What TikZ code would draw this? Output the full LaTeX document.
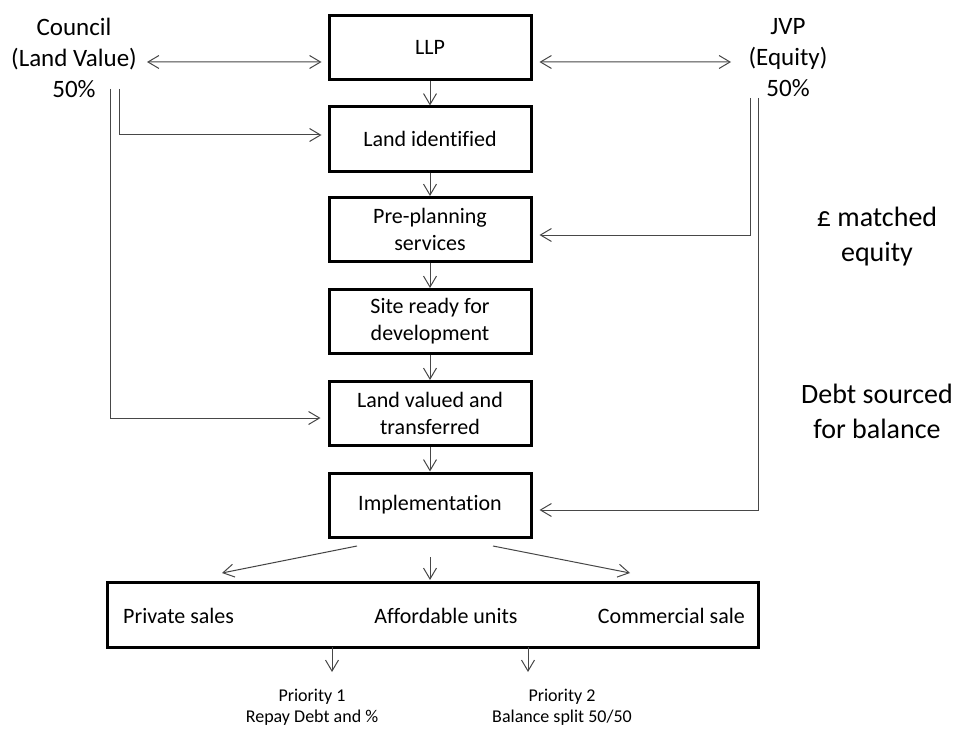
\documentclass[tikz,border=0pt]{standalone}
\usepackage{fontspec}
\setmainfont{Carlito}[Ligatures=NoCommon]
\usetikzlibrary{arrows.meta,calc}
\begin{document}
\begin{tikzpicture}[x=1bp,y=-1bp,
  >={Straight Barb[length=11bp,width=13bp,line width=1bp]},
  stepbox/.style={draw=black,line width=3bp,minimum width=202bp,minimum height=64bp,
    align=center,font=\fontsize{22bp}{27bp}\selectfont,inner sep=2bp},
  widebox/.style={draw=black,line width=3bp,minimum width=650bp,minimum height=65bp},
  conn/.style={draw=black!72,line width=1bp,->},
  dconn/.style={draw=black!72,line width=1bp,<->},
  partner/.style={align=center,font=\fontsize{25bp}{31bp}\selectfont,inner sep=0pt},
  side/.style={align=center,font=\fontsize{28bp}{35bp}\selectfont,inner sep=0pt},
  boxtext/.style={font=\fontsize{22bp}{27bp}\selectfont,inner sep=0pt},
  prio/.style={align=center,font=\fontsize{18bp}{21bp}\selectfont,inner sep=0pt}
]
\useasboundingbox (0,0) rectangle (957,729);

% main column
\node[stepbox] (llp)    at (430,47.5)  {LLP};
\node[stepbox] (landid) at (430,139)   {Land identified};
\node[stepbox] (pre)    at (430,229.5) {Pre-planning\\services};
\node[stepbox] (site)   at (430,321.5) {Site ready for\\development};
\node[stepbox] (landval) at (430,413.5) {Land valued and\\transferred};
\node[stepbox] (impl)   at (430,505)   {Implementation};

% bottom box
\node[widebox] (out) at (433,614.5) {};
\node[boxtext,anchor=west] (priv) at (123,616) {Private sales};
\node[boxtext] (aff) at (446,616) {Affordable units};
\node[boxtext,anchor=east] (comm) at (745,616) {Commercial sale};

% partners
\node[partner] (council) at (74,58) {Council\\(Land Value)\\50\%};
\node[partner] (jvp) at (788,58) {JVP\\(Equity)\\50\%};

% side notes
\node[side] (matched) at (877,237) {£ matched\\equity};
\node[side] (debt) at (877,411) {Debt sourced\\for balance};

% priorities
\node[prio] (p1) at (312,707) {Priority 1\\Repay Debt and \%};
\node[prio] (p2) at (562,707) {Priority 2\\Balance split 50/50};

% free-end coordinates
\coordinate (cl) at (147,62);
\coordinate (jl) at (731,62);
\coordinate (cA) at (110,89);
\coordinate (cB) at (119,89);
\coordinate (jA) at (750,98);
\coordinate (jB) at (758,98);
\coordinate (iL) at (357,546);
\coordinate (iM) at (430,557);
\coordinate (iR) at (493,546);
\coordinate (oL) at (222,573);
\coordinate (oM) at (430,580);
\coordinate (oR) at (630,573);
\coordinate (q1s) at (332,647);
\coordinate (q1e) at (332,672);
\coordinate (q2s) at (528,647);
\coordinate (q2e) at (528,672);

% connectors
\draw[dconn,shorten >=6bp] (cl) -- ([yshift=-14.5bp]llp.west);
\draw[dconn,shorten <=7bp] ([yshift=-14.5bp]llp.east) -- (jl);
\draw[conn] (llp) -- (landid);
\draw[conn] (landid) -- (pre);
\draw[conn] (pre) -- (site);
\draw[conn] (site) -- (landval);
\draw[conn] (landval) -- (impl);
\draw[conn,shorten >=6bp] (cB) |- ([yshift=4bp]landid.west);
\draw[conn,shorten >=7bp] (cA) |- ([yshift=-4.5bp]landval.west);
\draw[conn,shorten >=7bp] (jA) |- ([yshift=-5.5bp]pre.east);
\draw[conn,shorten >=7bp] (jB) |- ([yshift=-5bp]impl.east);
\draw[conn] (iL) -- (oL);
\draw[conn] (iM) -- (oM);
\draw[conn] (iR) -- (oR);
\draw[conn] (q1s) -- (q1e);
\draw[conn] (q2s) -- (q2e);
\end{tikzpicture}
\end{document}
